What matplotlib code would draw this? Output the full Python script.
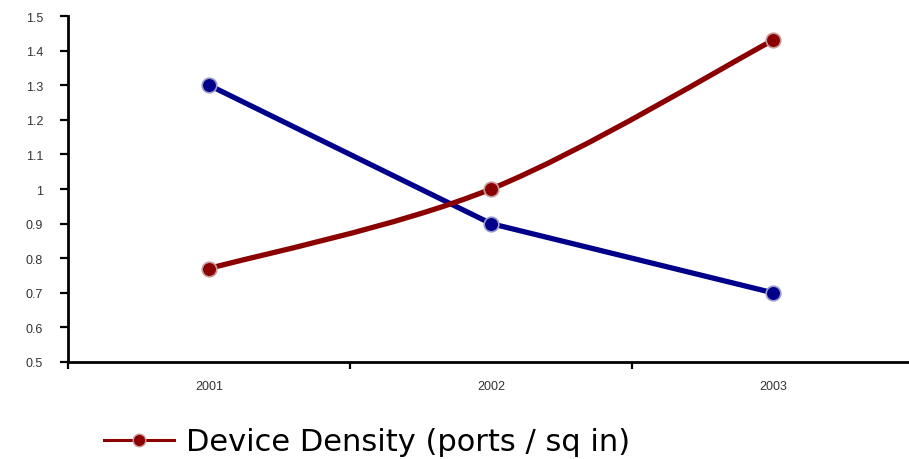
import numpy as np
import matplotlib.pyplot as plt
from matplotlib.path import Path
from matplotlib.patches import PathPatch

plt.rcParams['font.family'] = ['Liberation Sans', 'DejaVu Sans']

years = ['2001', '2002', '2003']
density = [0.77, 1.00, 1.43]     # Device Density (ports / sq in)
other = [1.30, 0.90, 0.70]       # second series, no legend entry

red = '#8b0000'
blue = '#00008b'


def smooth_path(xs, ys, k=1.0 / 6):
    # cubic bezier through the points, catmull-rom style tangents
    xs = np.asarray(xs, float)
    ys = np.asarray(ys, float)
    n = len(xs)
    verts = [(xs[0], ys[0])]
    codes = [Path.MOVETO]
    for i in range(n - 1):
        x0, y0 = xs[max(i - 1, 0)], ys[max(i - 1, 0)]
        x3, y3 = xs[min(i + 2, n - 1)], ys[min(i + 2, n - 1)]
        c1 = (xs[i] + (xs[i + 1] - x0) * k, ys[i] + (ys[i + 1] - y0) * k)
        c2 = (xs[i + 1] - (x3 - xs[i]) * k, ys[i + 1] - (y3 - ys[i]) * k)
        verts += [c1, c2, (xs[i + 1], ys[i + 1])]
        codes += [Path.CURVE4] * 3
    return Path(verts, codes)


fig = plt.figure(figsize=(9.09, 4.60), dpi=100)
ax = fig.add_axes([68 / 909, 97 / 460, 846 / 909, 346 / 460])

x = np.arange(len(years))

# blue series: straight segments
ax.plot(x, other, color=blue, lw=3.8, solid_capstyle='round', zorder=3)
ax.plot(x, other, ls='none', marker='o', ms=10.5, mfc=blue, mec='#9a9acc',
        mew=1.2, zorder=4)

# red series: smoothed line
ax.add_patch(PathPatch(smooth_path(x, density), fill=False, edgecolor=red,
                       lw=3.8, capstyle='round', zorder=3))
ax.plot(x, density, ls='none', marker='o', ms=10.5, mfc=red, mec='#c89a9a',
        mew=1.2, zorder=4)

ax.set_xlim(-0.5, 2.5)
ax.set_ylim(0.5, 1.5)

ax.set_yticks(np.arange(0.5, 1.51, 0.1))
ax.set_yticklabels(['0.5', '0.6', '0.7', '0.8', '0.9', '1', '1.1', '1.2',
                    '1.3', '1.4', '1.5'])
ax.set_xticks([-0.5, 0.5, 1.5, 2.5])
ax.set_xticklabels([])
ax.set_xticks(x, minor=True)
ax.set_xticklabels(years, minor=True)
ax.tick_params(axis='x', which='minor', length=0, pad=13)
ax.tick_params(axis='x', which='major', length=5, width=1.6, direction='out')
ax.tick_params(axis='y', length=6, width=1.6, direction='out', pad=12)
for lab in ax.get_xticklabels(minor=True) + ax.get_yticklabels():
    lab.set_fontsize(9)
    lab.set_color('#333333')

for s in ['top', 'right']:
    ax.spines[s].set_visible(False)
for s in ['left', 'bottom']:
    ax.spines[s].set_linewidth(2)

# legend only lists the red series
h, = ax.plot([], [], color=red, lw=2.2, marker='o', ms=9, mfc=red,
             mec='#c89a9a', mew=1.0)
leg = fig.legend([h], ['Device Density (ports / sq in)'], loc='center left',
                 bbox_to_anchor=(104 / 909, 1 - 443 / 460), frameon=False,
                 prop={'family': 'DejaVu Sans', 'size': 22},
                 handlelength=2.3, handletextpad=0.4, borderpad=0,
                 borderaxespad=0, numpoints=1)

fig.savefig('out.png', dpi=100)
